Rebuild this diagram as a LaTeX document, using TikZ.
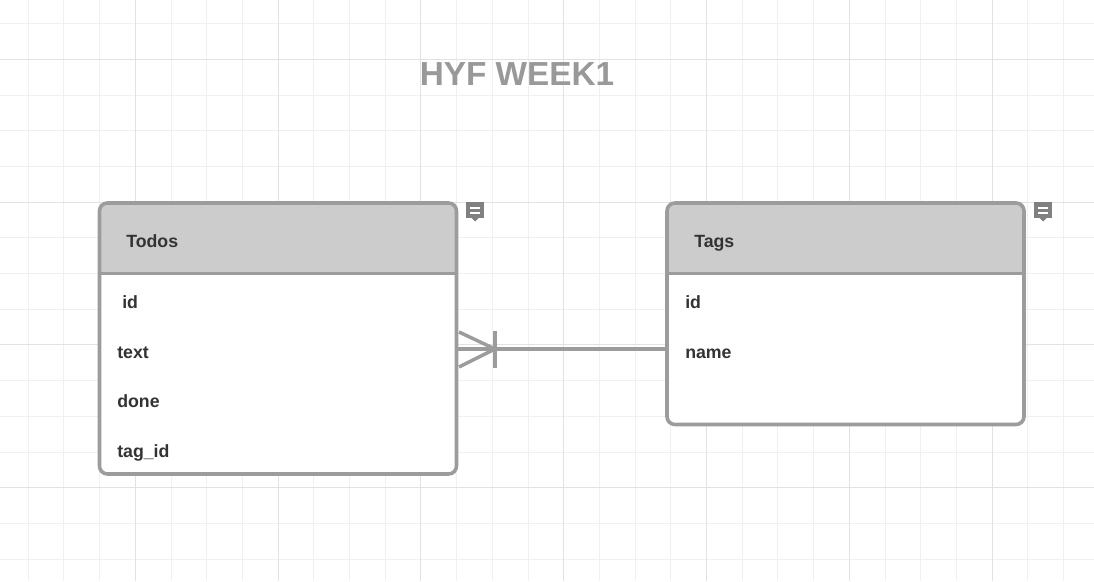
\documentclass[tikz,border=0pt]{standalone}
\usepackage{fontspec}
\setmainfont{Liberation Sans}
\usetikzlibrary{calc}
\definecolor{gmin}{HTML}{F0F0F0}
\definecolor{gmaj}{HTML}{E2E2E2}
\definecolor{edgec}{HTML}{9C9C9C}
\definecolor{headc}{HTML}{CCCCCC}
\definecolor{textc}{HTML}{333333}
\definecolor{titlec}{HTML}{999999}
\definecolor{notec}{HTML}{808080}
\tikzset{
  x=0.75pt,y=-0.75pt,
  gridminor/.style={gmin,line width=0.75pt},
  gridmajor/.style={gmaj,line width=0.75pt},
  tablebox/.style={fill=white,rounded corners=6pt},
  headbox/.style={fill=headc,rounded corners=6pt},
  frame/.style={draw=edgec,line width=2.7pt,rounded corners=6pt},
  divider/.style={edgec,line width=2.7pt},
  lbl/.style={font=\fontsize{13.3pt}{16pt}\selectfont\bfseries,text=textc,anchor=base west,inner sep=0pt},
  ttl/.style={font=\fontsize{25pt}{30pt}\selectfont\bfseries,text=titlec,anchor=base,inner sep=0pt},
  conn/.style={edgec,line width=2.6pt},
  notebg/.style={fill=notec},
  notebar/.style={white,line width=1.5pt}
}
\newcommand{\notemark}[2]{%
  \fill[notebg] (#1,#2) rectangle ++(18,16);
  \fill[notebg] (#1+5.5,#2+16) -- ++(7,0) -- ++(-3.5,3.5) -- cycle;
  \draw[notebar] (#1+4,#2+6) -- ++(10,0);
  \draw[notebar] (#1+4,#2+10.5) -- ++(10,0);
}
\begin{document}
\begin{tikzpicture}
\useasboundingbox (0,0) rectangle (1094,581);
\fill[white] (0,0) rectangle (1094,581);
\foreach \k in {0,...,29} {
  \pgfmathsetmacro{\xx}{28.2+35.7*\k}
  \draw[gridminor] (\xx,0) -- (\xx,581);
}
\foreach \yy in {23.5,95.5,130.5,166,237.5,273,309,380,416,452,523,559} {
  \draw[gridminor] (0,\yy) -- (1094,\yy);
}
\foreach \xx in {135.3,278,420.7,563.4,706.2,849,992} {
  \draw[gridmajor] (\xx,0) -- (\xx,581);
}
\foreach \yy in {59.5,202,344.5,487.5} {
  \draw[gridmajor] (0,\yy) -- (1094,\yy);
}
\node[ttl] (title) at (517,85.5) {HYF WEEK1};
% Todos
\path[tablebox] (99.5,203) rectangle (456.5,474);
\coordinate (todosE) at (456.5,349);
\begin{scope}
\clip (99.5,203) rectangle (456.5,273.5);
\path[headbox] (99.5,203) rectangle (456.5,290);
\end{scope}
\draw[frame] (99.5,474) -- (99.5,203) -- (456.5,203) -- (456.5,474) -- cycle;
\draw[divider] (99.5,273.5) -- (456.5,273.5);
\node[lbl] (todos) at (126,247) {Todos};
\node[lbl] (tid) at (122,308) {id};
\node[lbl] (ttext) at (117,358) {text};
\node[lbl] (tdone) at (117,407) {done};
\node[lbl] (ttag) at (117,457) {tag\_id};
% Tags
\path[tablebox] (667,203) rectangle (1024,424.5);
\coordinate (tagsW) at (667,349);
\begin{scope}
\clip (667,203) rectangle (1024,273.5);
\path[headbox] (667,203) rectangle (1024,290);
\end{scope}
\draw[frame] (667,424.5) -- (667,203) -- (1024,203) -- (1024,424.5) -- cycle;
\draw[divider] (667,273.5) -- (1024,273.5);
\node[lbl] (tags) at (694,247) {Tags};
\node[lbl] (gid) at (685,308) {id};
\node[lbl] (gname) at (685,358) {name};
% connector
\coordinate (bar) at (495,349);
\draw[conn] (todosE) -- (tagsW);
\draw[conn] (495,331) -- (495,367.5);
\draw[conn] (459,332) -- (bar) -- (459,367);
\notemark{466}{202}
\notemark{1034}{202}
\end{tikzpicture}
\end{document}
